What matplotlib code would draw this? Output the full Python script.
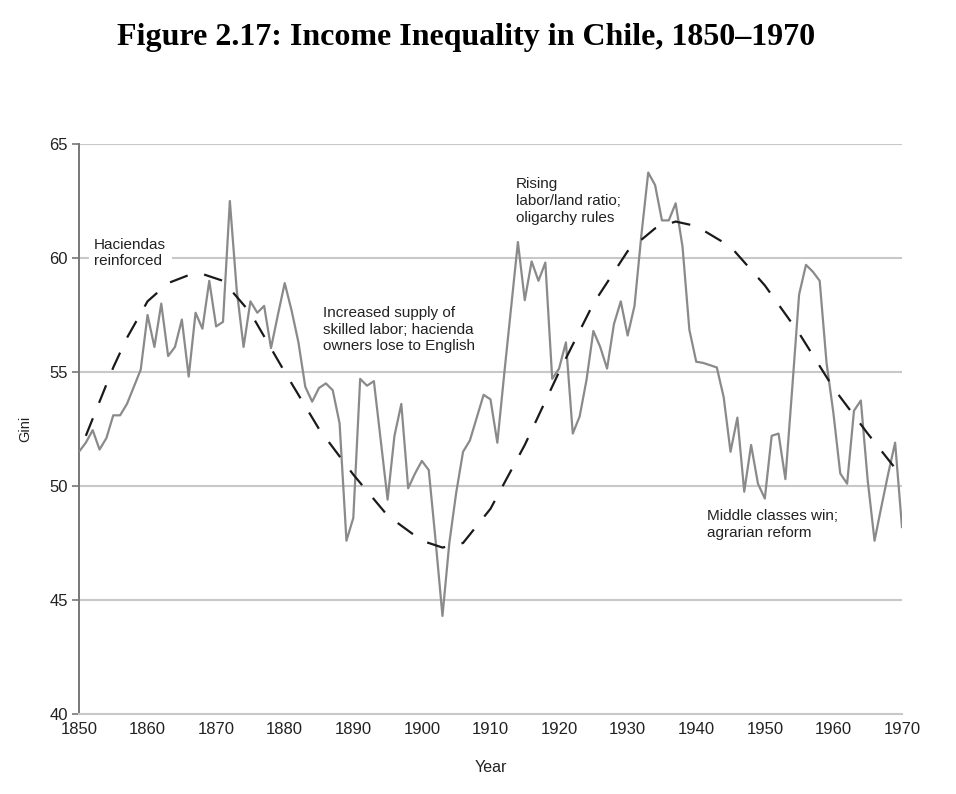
import matplotlib.pyplot as plt
import numpy as np

# yearly Gini values
years = np.arange(1850, 1971)
gini = [51.5, 51.9, 52.45, 51.6, 52.1, 53.1, 53.1, 53.6, 54.35, 55.1,
        57.5, 56.1, 58.0, 55.7, 56.1, 57.3, 54.8, 57.6, 56.9, 59.0,
        57.0, 57.2, 62.5, 58.6, 56.1, 58.1, 57.6, 57.9, 56.05, 57.5,
        58.9, 57.7, 56.3, 54.35, 53.7, 54.3, 54.5, 54.2, 52.75, 47.6,
        48.6, 54.7, 54.4, 54.6, 52.0, 49.4, 52.2, 53.6, 49.9, 50.55,
        51.1, 50.7, 47.6, 44.3, 47.5, 49.7, 51.5, 52.0, 53.0, 54.0,
        53.8, 51.9, 54.9, 57.8, 60.7, 58.15, 59.85, 59.0, 59.8, 54.7,
        55.15, 56.3, 52.3, 53.05, 54.65, 56.8, 56.1, 55.15, 57.1, 58.1,
        56.6, 57.9, 61.0, 63.75, 63.2, 61.65, 61.65, 62.4, 60.5, 56.85,
        55.45, 55.4, 55.3, 55.2, 53.9, 51.5, 53.0, 49.75, 51.8, 50.1,
        49.45, 52.2, 52.3, 50.3, 54.3, 58.4, 59.7, 59.4, 59.0, 55.4,
        53.2, 50.55, 50.1, 53.3, 53.75, 50.25, 47.6, 49.1, 50.55, 51.9,
        48.2]

# long-run trend (dashed curve)
trend_years = [1851, 1853, 1855, 1857, 1860, 1863, 1866, 1868, 1871, 1875,
               1880, 1885, 1890, 1895, 1900, 1903, 1906, 1910, 1915, 1920,
               1925, 1930, 1934, 1937, 1940, 1945, 1950, 1955, 1960, 1965, 1970]
trend = [52.2, 53.7, 55.2, 56.5, 58.1, 58.9, 59.25, 59.3, 59.0, 57.6,
         55.0, 52.5, 50.5, 48.7, 47.6, 47.3, 47.5, 49.0, 51.8, 55.0,
         58.0, 60.3, 61.3, 61.6, 61.4, 60.5, 58.8, 56.7, 54.3, 52.3, 50.4]

notes = [
    (1852.2, 60.9, "Haciendas\nreinforced"),
    (1885.6, 57.9, "Increased supply of\nskilled labor; hacienda\nowners lose to English"),
    (1913.7, 63.55, "Rising\nlabor/land ratio;\noligarchy rules"),
    (1941.5, 49.0, "Middle classes win;\nagrarian reform"),
]

plt.rcParams['font.family'] = ['Liberation Sans', 'DejaVu Sans']

fig = plt.figure(figsize=(9.56, 7.94), dpi=100)
ax = fig.add_axes([0.0826, 0.1008, 0.8609, 0.7178])

for g in [45, 50, 55, 60, 65]:
    ax.axhline(g, color='#c8c8c8', lw=1.5, zorder=1)

ax.plot(years, gini, color='#8a8a8a', lw=1.6, zorder=3)
ax.plot(trend_years, trend, color='#1a1a1a', lw=1.6, dashes=(8.5, 7.5), zorder=4)

for x, y, s in notes:
    bb = None
    if s.startswith("Haciendas"):
        bb = dict(facecolor='white', edgecolor='none', pad=4)
    ax.text(x, y, s, fontsize=11, color='#222222', va='top', ha='left',
            linespacing=1.25, bbox=bb, zorder=5)

ax.set_xlim(1850, 1970)
ax.set_ylim(40, 65)
ax.set_xticks(range(1850, 1971, 10))
ax.set_yticks(range(40, 66, 5))
ax.tick_params(axis='x', length=0, pad=6, labelsize=12, labelcolor='#222222')
ax.tick_params(axis='y', length=5, width=1.2, color='#777777', pad=3,
               labelsize=12, labelcolor='#222222')
for s in ['top', 'right']:
    ax.spines[s].set_visible(False)
ax.spines['left'].set_color('#777777')
ax.spines['left'].set_linewidth(1.4)
ax.spines['bottom'].set_color('#c8c8c8')
ax.spines['bottom'].set_linewidth(1.5)

ax.set_xlabel("Year", fontsize=11.5, color='#222222', labelpad=16)
ax.set_ylabel("Gini", fontsize=10.5, color='#222222', labelpad=12)

fig.text(0.488, 0.953, "Figure 2.17: Income Inequality in Chile, 1850\u20131970",
         ha='center', va='center', fontsize=23, fontweight='bold',
         family=['Liberation Serif', 'DejaVu Serif'])

fig.savefig('out.png', dpi=100)
